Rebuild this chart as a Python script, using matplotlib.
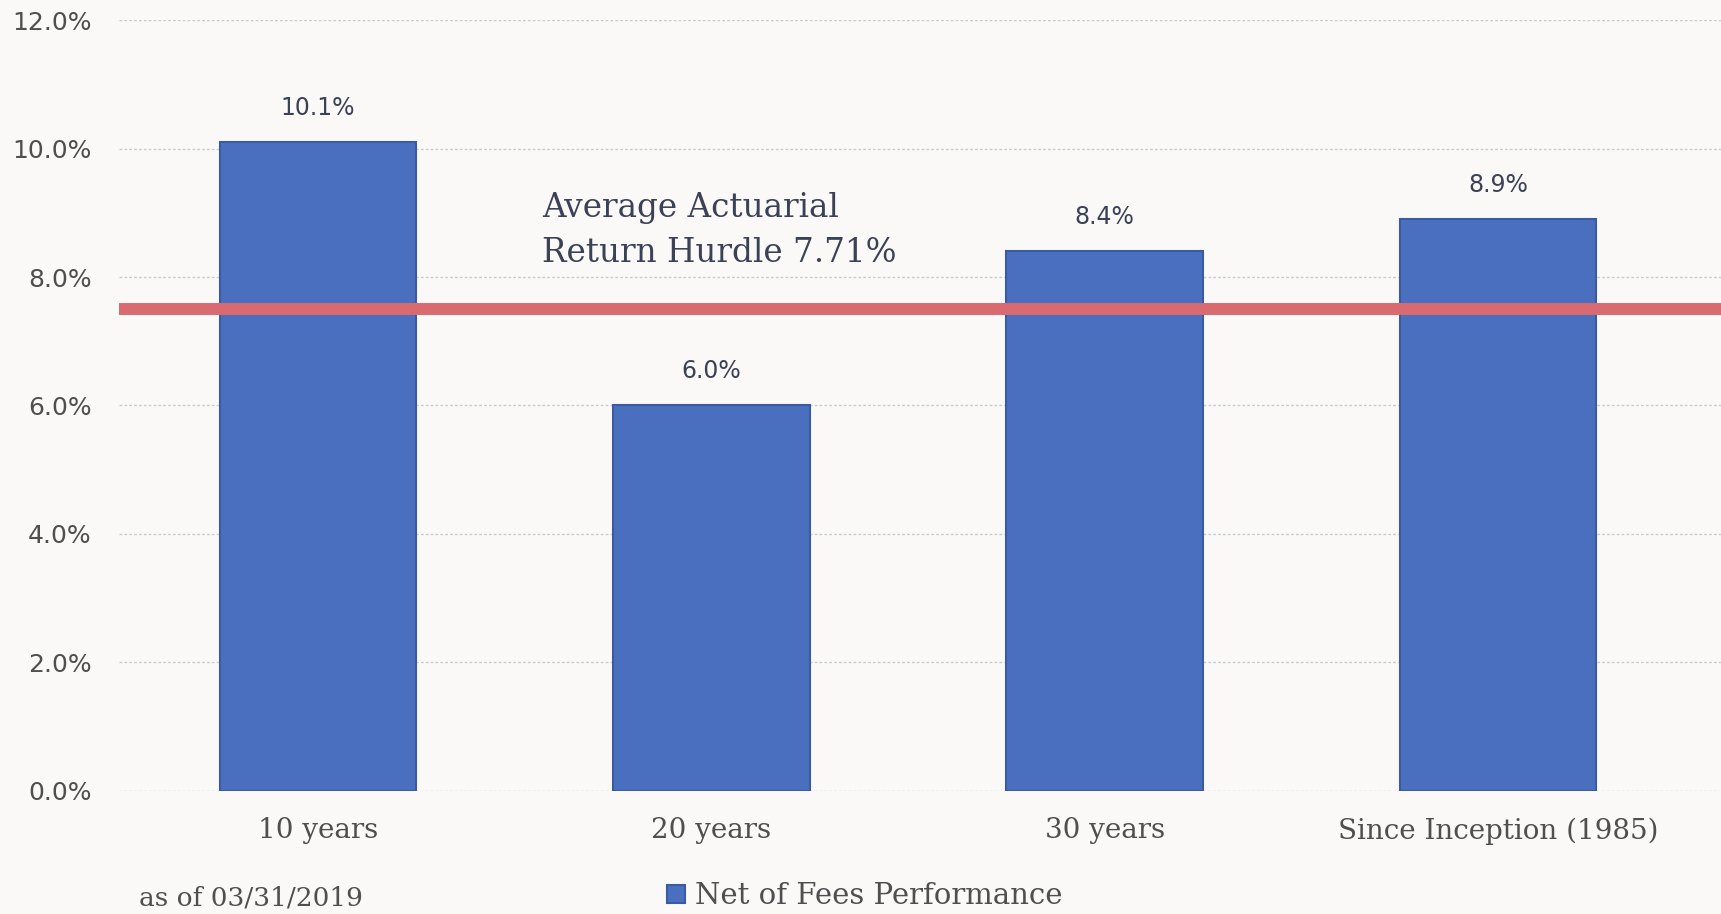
import matplotlib.pyplot as plt

categories = ['10 years', '20 years', '30 years', 'Since Inception (1985)']
net_of_fees = [10.1, 6.0, 8.4, 8.9]
value_labels = ['10.1%', '6.0%', '8.4%', '8.9%']
hurdle_level = 7.5
hurdle_text = 'Average Actuarial\nReturn Hurdle 7.71%'
yticks = [0, 2, 4, 6, 8, 10, 12]

bg = '#fbf8f8'
bar_color = '#4a6fbe'
text_dark = '#3b4256'
text_grey = '#4f4f4f'

fig = plt.figure(figsize=(17.21, 9.14), dpi=100, facecolor=bg)
ax = fig.add_axes([0.0691, 0.1346, 0.9309, 0.8435])
ax.set_facecolor(bg)

x = list(range(len(categories)))
bars = ax.bar(x, net_of_fees, width=0.5, color=bar_color, edgecolor='#3a5ba3',
              linewidth=1.5, zorder=2, label='Net of Fees Performance')

for xi, v, lab in zip(x, net_of_fees, value_labels):
    ax.annotate(lab, (xi, v), xytext=(0, 24.5), textcoords='offset points',
                ha='center', va='center', fontsize=17, color=text_dark,
                family='DejaVu Sans')

ax.axhline(hurdle_level, color='#d96a70', linewidth=8.6, zorder=3)
ax.text(0.569, 8.72, hurdle_text, fontsize=23.5, color=text_dark,
        family='DejaVu Serif', va='center', ha='left', linespacing=1.5,
        zorder=4)

ax.set_xlim(-0.506, 3.567)
ax.set_ylim(0, 12)
ax.set_yticks(yticks)
ax.set_yticklabels([f'{t:.1f}%' for t in yticks], fontsize=18,
                   color=text_grey, family='DejaVu Sans')
ax.set_xticks(x)
ax.set_xticklabels(categories, fontsize=20, color=text_grey,
                   family='DejaVu Serif')
ax.tick_params(axis='y', length=0, pad=19.5)
ax.tick_params(axis='x', length=0, pad=19)

for t in yticks:
    ax.axhline(t, color='#cccccc', linewidth=1, linestyle=(0, (2, 1.5)),
               zorder=1)

for s in ax.spines.values():
    s.set_visible(False)

fig.text(139 / 1721, 0.0175, 'as of 03/31/2019', fontsize=19,
         color=text_grey, family='DejaVu Serif', va='center', ha='left')

fig.legend(handles=[bars], labels=['Net of Fees Performance'],
           loc='center left', bbox_to_anchor=(0.3876, 0.0195),
           frameon=False, prop={'family': 'DejaVu Serif', 'size': 21},
           handlelength=0.6, handleheight=0.6, handletextpad=0.36,
           borderpad=0, borderaxespad=0, labelcolor=text_grey)

fig.savefig('out.png', dpi=100, facecolor=bg)
